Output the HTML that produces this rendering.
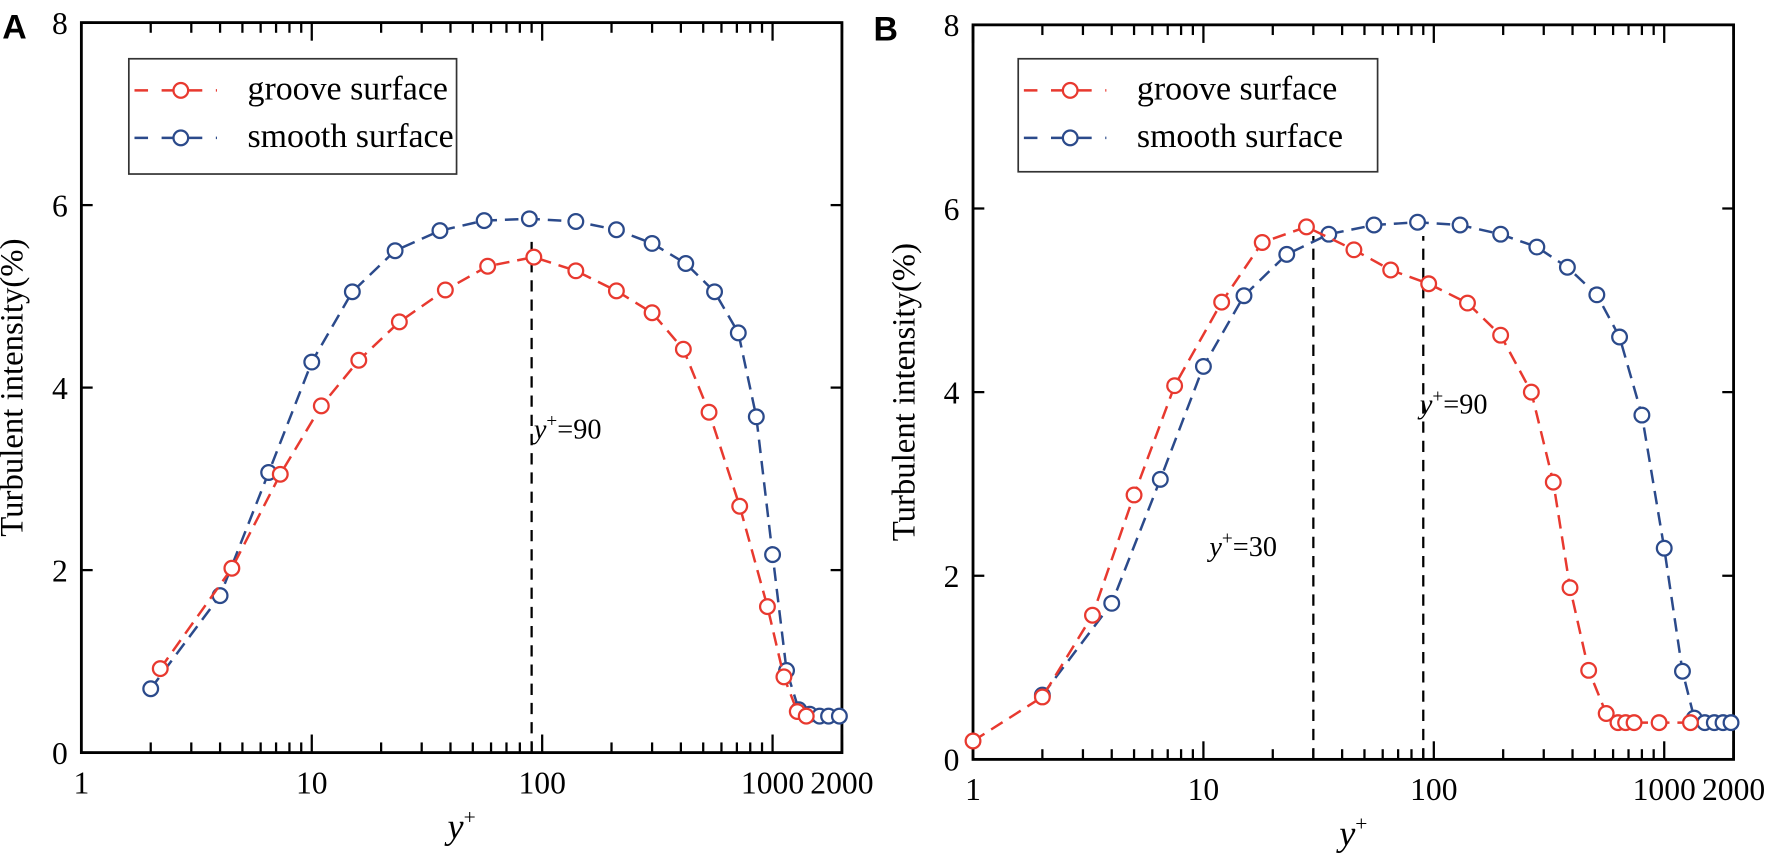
<!DOCTYPE html><html><head><style>body{margin:0;background:#fff}svg{display:block}svg text{font-family:"Liberation Serif","Times New Roman",serif !important;fill:#000}svg text.b{font-family:"Liberation Sans",Arial,sans-serif !important}</style></head><body>
<svg id="s" width="1772" height="856" viewBox="0 0 1568 757.5" preserveAspectRatio="none" font-family="Liberation Serif, serif" xmlns="http://www.w3.org/2000/svg"></svg>
<script>
const S=document.getElementById('s');let h='';const F='font-family="Liberation Serif, serif"';
function panel(o){const{L,R,T,B,lab,red,blue,vl,leg}=o;const dec=(R-L)/Math.log10(2000);
const X=v=>L+Math.log10(v)*dec,Y=v=>B-(B-T)*v/8;
h+=`<rect x="${L}" y="${T}" width="${R-L}" height="${B-T}" fill="none" stroke="#000" stroke-width="2.5"/>`;
for(let d=1;d<=1000;d*=10)for(let k=1;k<10;k++){const v=d*k;if(v>2000)break;const x=X(v),len=k==1?16:9;
h+=`<line x1="${x}" y1="${B}" x2="${x}" y2="${B-len}" stroke="#000" stroke-width="2"/><line x1="${x}" y1="${T}" x2="${x}" y2="${T+len}" stroke="#000" stroke-width="2"/>`;}
h+=`<line x1="${R}" y1="${B}" x2="${R}" y2="${B-16}" stroke="#000" stroke-width="2"/>`;
[[1,'1'],[10,'10'],[100,'100'],[1000,'1000'],[2000,'2000']].forEach(([v,t])=>h+=`<text ${F} x="${X(v)}" y="${B+36}" font-size="28" text-anchor="middle">${t}</text>`);
for(let i=0;i<=8;i+=2){const y=Y(i);h+=`<text ${F} x="${L-12}" y="${y+10}" font-size="28" text-anchor="end">${i}</text>`;
h+=`<line x1="${L}" y1="${y}" x2="${L+10}" y2="${y}" stroke="#000" stroke-width="2"/><line x1="${R}" y1="${y}" x2="${R-10}" y2="${y}" stroke="#000" stroke-width="2"/>`;}
h+=`<text ${F} x="${(L+R)/2}" y="${B+76}" font-size="32" text-anchor="middle" font-style="italic">y<tspan dy="-13" font-size="19" font-style="normal">+</tspan></text>`;
h+=`<text ${F} transform="translate(${L-52},${(T+B)/2}) rotate(-90)" font-size="29" text-anchor="middle">Turbulent intensity(%)</text>`;
h+=`<text class="b" font-family="Liberation Sans, sans-serif" x="${o.lx}" y="${T+14}" font-size="30" font-weight="bold">${lab}</text>`;
vl.forEach(([v,yt,t])=>{h+=`<line x1="${X(v)}" y1="${B}" x2="${X(v)}" y2="${Y(yt)}" stroke="#000" stroke-width="2" stroke-dasharray="10,7"/>`;
h+=`<text ${F} x="${X(v)+t[0]}" y="${t[1]}" font-size="25"><tspan font-style="italic">y</tspan><tspan dy="-10" font-size="17">+</tspan><tspan dy="10">=${t[2]}</tspan></text>`;});
[[blue,'#2b4a8b'],[red,'#e8392f']].forEach(([d,c])=>{h+=`<polyline points="${d.map(p=>X(p[0])+','+Y(p[1])).join(' ')}" fill="none" stroke="${c}" stroke-width="2.2" stroke-dasharray="12,7"/>`;
d.forEach(p=>h+=`<circle cx="${X(p[0])}" cy="${Y(p[1])}" r="6.5" fill="#fff" stroke="${c}" stroke-width="2"/>`);});
const[lx0,ly,lw,lh]=leg;const lx=L+lx0;h+=`<rect x="${lx}" y="${ly}" width="${lw}" height="${lh}" fill="#fff" stroke="#333" stroke-width="1.5"/>`;
[['#e8392f','groove surface',ly+36],['#2b4a8b','smooth surface',ly+78]].forEach(([c,t,y])=>{h+=`<line x1="${lx+5}" y1="${y-8}" x2="${lx+78}" y2="${y-8}" stroke="${c}" stroke-width="2.2" stroke-dasharray="12,12"/><circle cx="${lx+46}" cy="${y-8}" r="6.5" fill="#fff" stroke="${c}" stroke-width="2"/><text ${F} x="${lx+105}" y="${y}" font-size="30">${t}</text>`;});}
panel({L:72,R:745,T:20,B:666,lab:'A',lx:2,leg:[42,52,290,102],
red:[[2.2,.92],[4.5,2.02],[7.3,3.05],[11,3.8],[16,4.3],[24,4.72],[38,5.07],[58,5.33],[92,5.43],[140,5.28],[210,5.06],[300,4.82],[410,4.42],[530,3.73],[720,2.7],[950,1.6],[1120,.83],[1280,.45],[1400,.4]],
blue:[[2,.7],[4,1.72],[6.5,3.07],[10,4.28],[15,5.05],[23,5.5],[36,5.72],[56,5.83],[88,5.85],[140,5.82],[210,5.73],[300,5.58],[420,5.36],[560,5.05],[710,4.6],[850,3.68],[1000,2.17],[1150,.9],[1300,.47],[1450,.42],[1600,.4],[1750,.4],[1950,.4]],
vl:[[90,5.6,[2,388,'90']]]});
panel({L:861,R:1534,T:22,B:672,lab:'B',lx:773,leg:[40,52,318,100],
red:[[1,.2],[2,.68],[3.3,1.57],[5,2.88],[7.5,4.07],[12,4.98],[18,5.63],[28,5.8],[45,5.55],[65,5.33],[95,5.18],[140,4.97],[195,4.62],[265,4],[330,3.02],[390,1.87],[470,.97],[560,.5],[630,.4],[680,.4],[740,.4],[950,.4],[1300,.4]],
blue:[[2,.7],[4,1.7],[6.5,3.05],[10,4.28],[15,5.05],[23,5.5],[35,5.72],[55,5.82],[85,5.85],[130,5.82],[195,5.72],[280,5.58],[380,5.36],[510,5.06],[640,4.6],[800,3.75],[1000,2.3],[1200,.96],[1350,.45],[1500,.4],[1650,.4],[1800,.4],[1950,.4]],
vl:[[30,5.7,[-92,492,'30']],[90,5.7,[-3,366,'90']]]});
S.innerHTML=h;
</script></body></html>
